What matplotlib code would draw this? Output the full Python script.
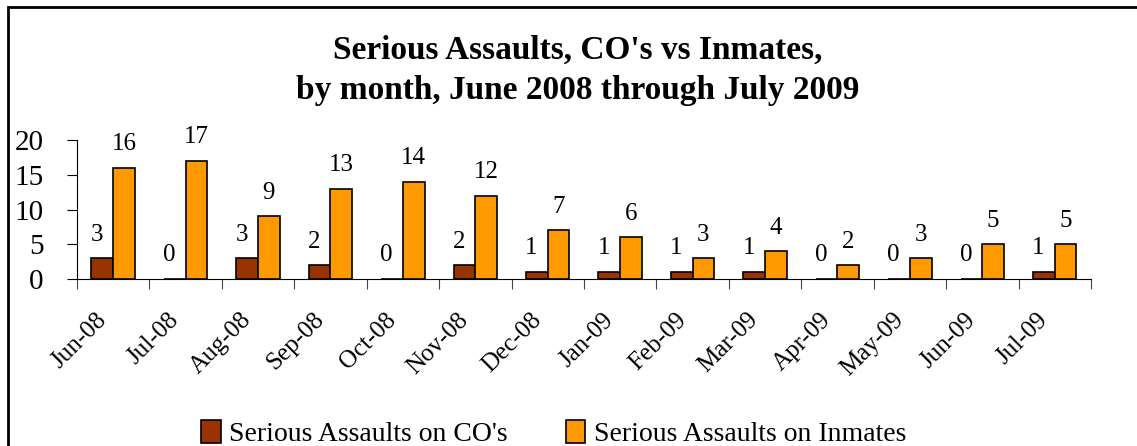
import numpy as np
import matplotlib.pyplot as plt
import matplotlib.transforms as mtransforms
from matplotlib.patches import Rectangle

plt.rcParams['font.family'] = ['Liberation Serif', 'DejaVu Serif']

# Data
months = ['Jun-08', 'Jul-08', 'Aug-08', 'Sep-08', 'Oct-08', 'Nov-08', 'Dec-08',
          'Jan-09', 'Feb-09', 'Mar-09', 'Apr-09', 'May-09', 'Jun-09', 'Jul-09']
on_cos = [3, 0, 3, 2, 0, 2, 1, 1, 1, 1, 0, 0, 0, 1]
on_inmates = [16, 17, 9, 13, 14, 12, 7, 6, 3, 4, 2, 3, 5, 5]
title_lines = ["Serious Assaults, CO's vs Inmates,", "by month, June 2008 through July 2009"]

fig = plt.figure(figsize=(11.37, 4.46), dpi=100)
ax = fig.add_axes([0.0677, 0.3744, 0.8918, 0.3117])

x = np.arange(len(months))
w = 0.3
ax.bar(x - w / 2, on_cos, w, color='#993300', edgecolor='black', linewidth=1.2,
       label="Serious Assaults on CO's")
ax.bar(x + w / 2, on_inmates, w, color='#FF9900', edgecolor='black', linewidth=1.2,
       label='Serious Assaults on Inmates')

# value labels
for xi, v in zip(x, on_cos):
    ax.annotate(str(v), (xi - w / 2, v), xytext=(-4, 17), textcoords='offset points',
                ha='center', va='center', fontsize=18)
for xi, v in zip(x, on_inmates):
    ax.annotate(str(v), (xi + w / 2, v), xytext=(0, 17), textcoords='offset points',
                ha='center', va='center', fontsize=18)

ax.set_xlim(-0.5, len(months) - 0.5)
ax.set_ylim(0, 20)
ax.set_yticks([0, 5, 10, 15, 20])
ax.tick_params(axis='y', labelsize=21, direction='out', length=7, pad=17)

# category boundary ticks, labels at centres
ax.set_xticks(np.arange(len(months) + 1) - 0.5)
ax.set_xticklabels([])
ax.set_xticks(x, minor=True)
ax.set_xticklabels(months, minor=True, rotation=45, ha='right', va='center',
                   rotation_mode='anchor', fontsize=18)
ax.tick_params(axis='x', which='major', direction='out', length=7, color='#444444')
ax.tick_params(axis='x', which='minor', length=0, pad=27)
shift = mtransforms.ScaledTranslation(-10 / 100, 0, fig.dpi_scale_trans)
for lbl in ax.get_xticklabels(minor=True):
    lbl.set_transform(lbl.get_transform() + shift)

ax.spines['top'].set_visible(False)
ax.spines['right'].set_visible(False)

fig.text(0.508, 1 - 59 / 446, title_lines[0], ha='center', va='baseline',
         fontsize=24, fontweight='bold')
fig.text(0.508, 1 - 99 / 446, title_lines[1], ha='center', va='baseline',
         fontsize=24, fontweight='bold')

fig.legend(loc='center', bbox_to_anchor=(0.487, 0.029), ncol=2, frameon=False,
           fontsize=20, handlelength=0.7, handleheight=0.9, handletextpad=0.3,
           columnspacing=2.1)

# chart border
fig.patches.append(Rectangle((8 / 1137, -0.2), 1.2, 1.2 - 7 / 446, transform=fig.transFigure,
                             fill=False, edgecolor='black', linewidth=2))

fig.savefig('out.png', dpi=100)
